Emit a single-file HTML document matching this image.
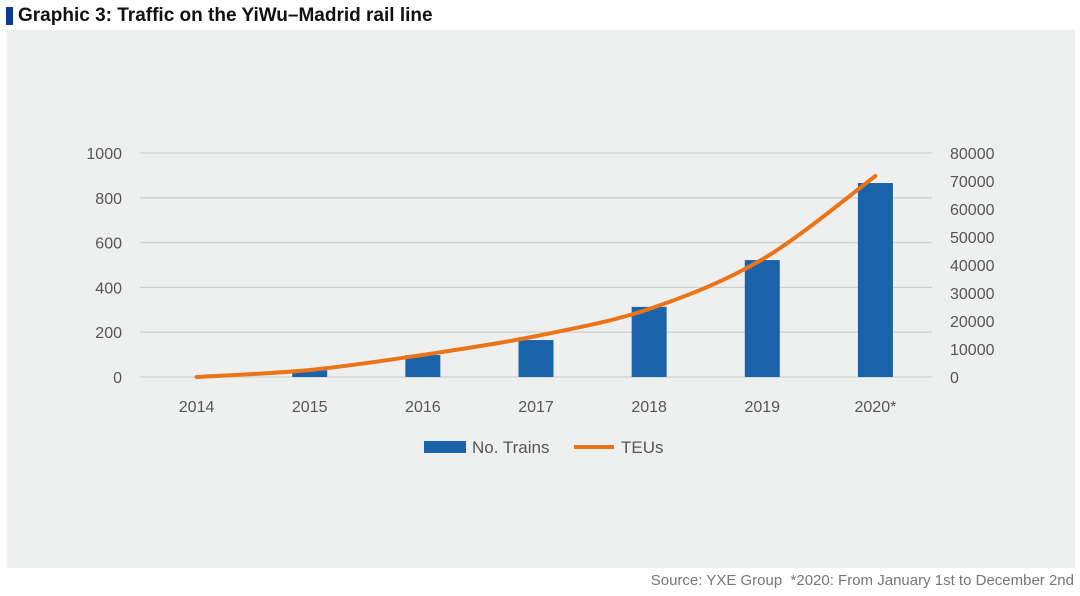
<!DOCTYPE html>
<html><head><meta charset="utf-8"><style>
body{margin:0;width:1080px;height:596px;background:#fff;font-family:"Liberation Sans",sans-serif;overflow:hidden;position:relative}
#title{position:absolute;left:6px;top:5px;font-size:19px;font-weight:bold;color:#111;display:flex;align-items:center}
#title span.bar{display:inline-block;width:7px;height:18px;background:#0a3d8f;margin-right:5px}
#panel{position:absolute;left:7px;top:30px;width:1068px;height:538px;background:#eef0ef}
#src{position:absolute;right:6px;top:572px;font-size:15px;color:#777}
</style></head><body>
<div id="title"><span class="bar"></span>Graphic 3: Traffic on the YiWu–Madrid rail line</div>
<div id="panel"></div>
<svg id="chart" width="1080" height="596" style="position:absolute;left:0;top:0"></svg>
<div id="src">Source: YXE Group &nbsp;*2020: From January 1st to December 2nd</div>
<script>
const categories=["2014","2015","2016","2017","2018","2019","2020*"];
const trains=[0,30,98,165,313,522,866];
const teus=[0,2500,7900,14600,24300,42000,71800];
const leftTicks=[0,200,400,600,800,1000];
const rightTicks=[0,10000,20000,30000,40000,50000,60000,70000,80000];
const NS="http://www.w3.org/2000/svg";
const svg=document.getElementById('chart');
const x0=140,x1=932,yB=377,yT=153;
const step=(x1-x0)/categories.length;
const xc=i=>x0+step*(i+0.5);
const yL=v=>yB-(v/1000)*(yB-yT);
const yR=v=>yB-(v/80000)*(yB-yT);
function mk(t,a){const e=document.createElementNS(NS,t);for(const k in a)e.setAttribute(k,a[k]);svg.appendChild(e);return e;}
leftTicks.forEach(v=>{
 const g=mk('line',{x1:x0,x2:x1,y1:yL(v),y2:yL(v),stroke:'#cfd1d0','stroke-width':1.3});
 
 
 const t=mk('text',{x:122,y:yL(v)+6,'text-anchor':'end','font-size':16,fill:'#555'});
 t.textContent=v;
 
 
});
rightTicks.forEach(v=>{
 const t=mk('text',{x:950,y:yR(v)+6,'font-size':16,fill:'#555'});
 t.textContent=v;
 
 
});
categories.forEach((c,i)=>{
 const t=mk('text',{x:xc(i),y:412,'text-anchor':'middle','font-size':16,fill:'#555'});
 t.textContent=c;
 
 
 const h=yB-yL(trains[i]);
 const r=mk('rect',{x:xc(i)-17.5,y:yL(trains[i]),width:35,height:h,fill:'#1a63aa'});
 
 
});
const pts=teus.map((v,i)=>[xc(i),yR(v)]);
let d='M'+pts[0][0]+','+pts[0][1];
for(let i=0;i<pts.length-1;i++){
 const p0=pts[Math.max(0,i-1)],p1=pts[i],p2=pts[i+1],p3=pts[Math.min(pts.length-1,i+2)];
 const c1=[p1[0]+(p2[0]-p0[0])/6,p1[1]+(p2[1]-p0[1])/6];
 const c2=[p2[0]-(p3[0]-p1[0])/6,p2[1]-(p3[1]-p1[1])/6];
 d+=` C${c1[0]},${c1[1]} ${c2[0]},${c2[1]} ${p2[0]},${p2[1]}`;
}
const ln=mk('path',{d:d,fill:'none',stroke:'#ec7418','stroke-width':4,'stroke-linecap':'round'});


const s1=mk('rect',{x:424,y:441,width:42,height:12,fill:'#1a63aa'});


const l1=mk('text',{x:472,y:453,'font-size':17,fill:'#555'});l1.textContent='No. Trains';


const s2=mk('line',{x1:574,x2:614,y1:447,y2:447,stroke:'#ec7418','stroke-width':4});


const l2=mk('text',{x:621,y:453,'font-size':17,fill:'#555'});l2.textContent='TEUs';


</script>
</body></html>
